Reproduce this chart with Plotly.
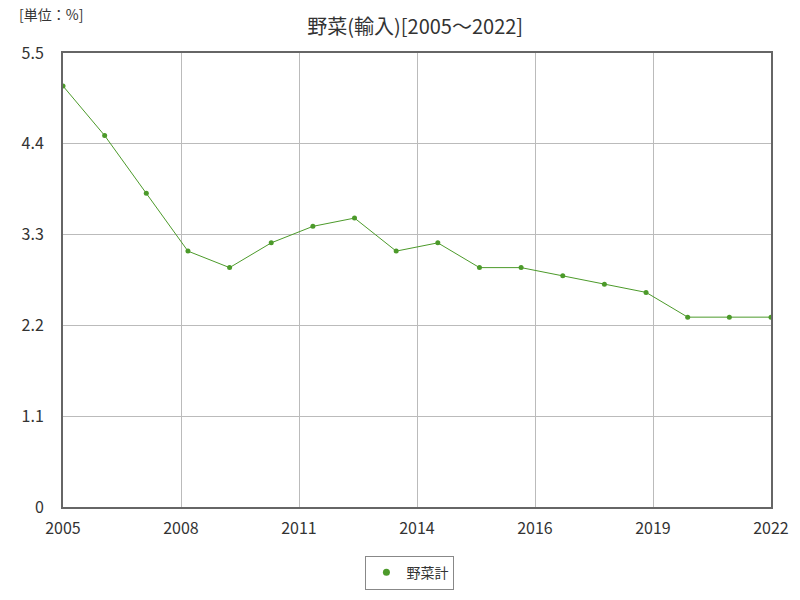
import plotly.graph_objects as go

years = list(range(2005, 2023))
values = [5.1, 4.5, 3.8, 3.1, 2.9, 3.2, 3.4, 3.5, 3.1, 3.2, 2.9, 2.9, 2.8, 2.7, 2.6, 2.3, 2.3, 2.3]
series_name = "野菜計"
x_tick_labels = ["2005", "2008", "2011", "2014", "2016", "2019", "2022"]
y_ticks = [0, 1.1, 2.2, 3.3, 4.4, 5.5]
y_tick_labels = ["0", "1.1", "2.2", "3.3", "4.4", "5.5"]

font_family = "Noto Sans CJK JP"
color = "#4c9a2a"
x_tick_vals = [2005 + 17 * i / 6 for i in range(7)]

fig = go.Figure()
fig.add_trace(go.Scatter(
    x=years, y=values, mode="lines+markers", name=series_name,
    line=dict(color=color, width=1),
    marker=dict(color=color, size=5),
    showlegend=False,
))
# legend entry shown as a dot only
fig.add_trace(go.Scatter(
    x=[None], y=[None], mode="markers", name=series_name,
    marker=dict(color=color, size=7), showlegend=True,
))

fig.update_layout(
    width=800, height=600,
    margin=dict(l=63, r=29, t=53, b=93, autoexpand=False),
    paper_bgcolor="white", plot_bgcolor="white",
    font=dict(family=font_family, color="#333333", size=16),
    title=dict(text="野菜(輸入)[2005～2022]", x=0.519, xanchor="center", y=0.955, yanchor="middle",
               font=dict(size=20, color="#333333", family=font_family)),
    showlegend=True,
    legend=dict(orientation="h", x=0.49, xanchor="center", yref="container", y=0.074, yanchor="top",
                bordercolor="#888888", borderwidth=1, font=dict(size=14),
                itemwidth=30, tracegroupgap=0),
    xaxis=dict(range=[2005, 2022], tickvals=x_tick_vals, ticktext=x_tick_labels,
               showgrid=True, gridcolor="#bbbbbb", gridwidth=1,
               showline=True, linecolor="#666666", linewidth=2, mirror=True,
               ticks="", zeroline=False, tickfont=dict(size=16), ticklabelstandoff=6,
               automargin=False),
    yaxis=dict(range=[0, 5.5], tickvals=y_ticks, ticktext=y_tick_labels,
               showgrid=True, gridcolor="#bbbbbb", gridwidth=1,
               showline=True, linecolor="#666666", linewidth=2, mirror=True,
               ticks="", zeroline=False, tickfont=dict(size=16), ticklabelstandoff=14,
               automargin=False),
    annotations=[dict(text="[単位：%]", xref="paper", yref="paper", x=-0.065, y=1.085,
                      xanchor="left", yanchor="middle", showarrow=False,
                      font=dict(size=14, color="#333333", family=font_family))],
)
fig.write_html("out.html")
